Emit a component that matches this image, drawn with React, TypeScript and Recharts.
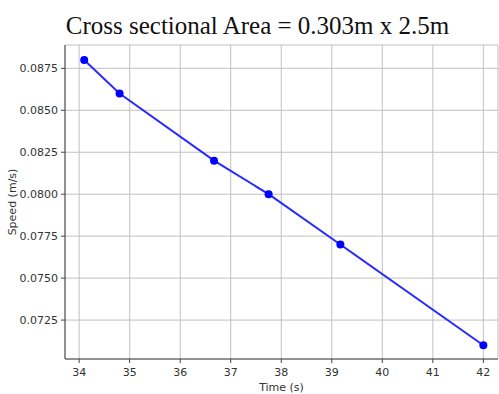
import React from "react";
import { CartesianGrid, Line, LineChart, XAxis, YAxis } from "recharts";

const times = [34.1, 34.8, 36.67, 37.75, 39.17, 42];
const speeds = [0.088, 0.086, 0.082, 0.08, 0.077, 0.071];
const xTicks = [34, 35, 36, 37, 38, 39, 40, 41, 42];
const yTicks = [0.0725, 0.075, 0.0775, 0.08, 0.0825, 0.085, 0.0875];

const data = times.map((t, i) => ({ time: t, speed: speeds[i] }));

const tickStyle = { fill: "#333", fontSize: 11, fontFamily: "DejaVu Sans" };

export default function App() {
  return (
    <div style={{ position: "absolute", left: 0, top: 0, width: 499, height: 394, background: "#fff" }}>
      <div
        style={{
          position: "absolute",
          top: 11,
          left: 0,
          width: 515,
          textAlign: "center",
          fontFamily: "Liberation Serif",
          fontSize: 25,
          color: "#111",
          lineHeight: "30px",
        }}
      >
        Cross sectional Area = 0.303m x 2.5m
      </div>
      <LineChart
        width={499}
        height={394}
        data={data}
        margin={{ top: 45, right: 1, bottom: 0, left: 0 }}
      >
        <CartesianGrid stroke="#c0c0c0" strokeWidth={1} />
        <XAxis
          dataKey="time"
          type="number"
          domain={[33.72, 42.29]}
          ticks={xTicks}
          allowDataOverflow
          height={35}
          tick={tickStyle}
          tickSize={4}
          tickMargin={5}
          stroke="#444"
          axisLine={{ stroke: "#444" }}
          tickLine={{ stroke: "#444" }}
          label={{ value: "Time (s)", position: "insideBottom", offset: 3, style: { fill: "#333", fontSize: 11, fontFamily: "DejaVu Sans" } }}
        />
        <XAxis
          xAxisId="top"
          dataKey="time"
          type="number"
          orientation="top"
          domain={[33.72, 42.29]}
          height={0}
          tick={false}
          tickLine={false}
          axisLine={{ stroke: "#555" }}
        />
        <YAxis
          dataKey="speed"
          type="number"
          domain={[0.07018, 0.08889]}
          ticks={yTicks}
          allowDataOverflow
          width={65}
          tick={tickStyle}
          tickSize={4}
          tickMargin={3}
          tickFormatter={(v: number) => v.toFixed(4)}
          axisLine={{ stroke: "#444" }}
          tickLine={{ stroke: "#444" }}
          label={{ value: "Speed (m/s)", angle: -90, position: "insideLeft", offset: 12, style: { fill: "#333", fontSize: 11, fontFamily: "DejaVu Sans", textAnchor: "middle" } }}
        />
        <Line
          dataKey="speed"
          type="linear"
          stroke="#2a2aff"
          strokeWidth={2}
          dot={{ r: 4, fill: "#0000ff", stroke: "#0000ff", strokeWidth: 0 }}
          isAnimationActive={false}
        />
      </LineChart>
    </div>
  );
}
